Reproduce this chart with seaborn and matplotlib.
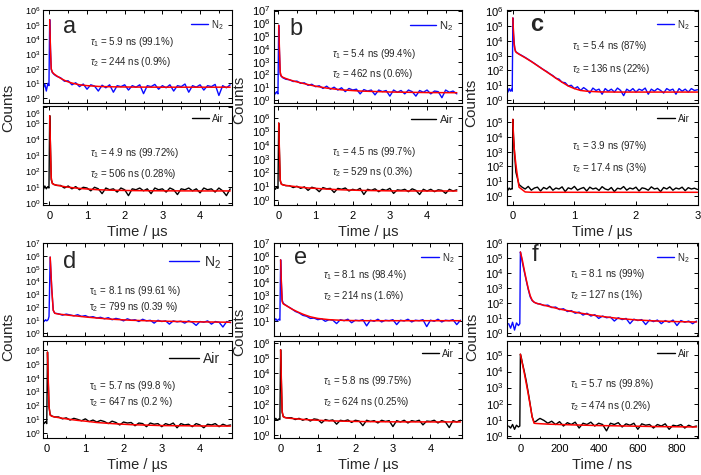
import matplotlib
matplotlib.use('Agg')
import matplotlib.pyplot as plt
import seaborn as sns
from matplotlib.ticker import MultipleLocator, NullLocator
from matplotlib.transforms import Affine2D

# ---------------- data ----------------
# common time grid (us) for panels a, b, d, e
t_us = [-0.2, -0.16, -0.12, -0.08, -0.04, -0.01, 0.01, 0.03, 0.05, 0.08, 0.12, 0.16, 0.2,
        0.3, 0.4, 0.5, 0.6, 0.7, 0.8, 0.9, 1.0, 1.1, 1.2, 1.3, 1.4, 1.5, 1.6, 1.7, 1.8, 1.9,
        2.0, 2.1, 2.2, 2.3, 2.4, 2.5, 2.6, 2.7, 2.8, 2.9, 3.0, 3.1, 3.2, 3.3, 3.4, 3.5, 3.6,
        3.7, 3.8, 3.9, 4.0, 4.1, 4.2, 4.3, 4.4, 4.5, 4.6, 4.7, 4.8]
fit_t_us = [0.01, 0.02, 0.03, 0.05, 0.08, 0.12, 0.2, 0.3, 0.45, 0.6, 0.8, 1.0, 1.3, 1.7,
            2.2, 3.0, 4.0, 4.8]

a_n2 = [8, 5, 9, 3, 10, 7, 2.2e5, 2500, 90, 55, 42, 35, 30,
        24, 14, 15, 8, 11, 6, 9, 4, 8, 6.5, 3, 7.5, 5, 8, 2.5, 7, 6, 8, 3.5, 7, 5.5, 8, 2,
        7, 6, 8.5, 4, 7, 5, 8, 3, 7, 6, 9, 2.5, 7, 5.5, 8, 3.5, 7, 6, 8.5, 1.5, 7, 5, 8]
a_air = [10, 7, 12, 8, 11, 9, 3e5, 4000, 30, 18, 15, 14, 13,
         13, 9, 12, 8, 11, 7, 10, 9, 6, 10, 8, 4, 9, 7, 8, 5, 9, 7, 3, 8, 7, 9, 6, 8, 4, 9,
         7, 8, 5, 9, 7, 3.5, 8, 7, 9, 6, 8, 4.5, 9, 7, 8, 5, 9, 6, 3, 8]
a_n2_fit = [2.2e5, 2e4, 2000, 100, 58, 45, 32, 22, 14, 10.5, 8, 7, 6.2, 5.8, 5.6, 5.5, 5.5, 5.5]
a_air_fit = [3e5, 3e4, 2500, 40, 17, 15, 13.5, 12, 10.5, 9.5, 8.5, 7.8, 7, 6.5, 6.2, 6, 5.9, 5.9]

b_n2 = [4, 2, 5, 3, 4.5, 3, 7e5, 6000, 100, 70, 55, 48, 42,
        38, 28, 30, 20, 22, 14, 17, 11, 13, 8, 12, 7, 10, 6, 9, 4.5, 8, 6, 7, 3, 6.5, 5, 6,
        2.5, 6, 4.5, 5.5, 2, 6, 4, 5.5, 3, 6, 4.5, 2, 5.5, 4, 6, 3, 5, 4.5, 1.5, 6, 4, 5, 3]
b_air = [8, 5, 10, 6, 9, 7, 4e5, 3000, 25, 15, 13, 12, 11,
         11, 8, 10, 7, 9, 5, 8.5, 7, 4, 8, 6.5, 7, 3.5, 7, 6, 7.5, 4.5, 6, 5, 7, 2.5, 6, 5,
         6.5, 4, 6, 5, 7, 3, 5.5, 5, 6, 4, 6.5, 5, 2.5, 6, 4.5, 6, 4, 5.5, 5, 3, 6, 4.5, 5.5]
b_n2_fit = [7e5, 8e4, 8000, 150, 75, 60, 48, 38, 28, 22, 16, 12, 8.5, 6.2, 5, 4.2, 3.8, 3.7]
b_air_fit = [4e5, 4e4, 3000, 30, 14, 12.5, 11.5, 10.5, 9.5, 8.5, 7.5, 7, 6.2, 5.5, 5, 4.6, 4.5, 4.5]

d_n2 = [10, 7, 12, 8, 11, 9, 10, 12, 20, 8e5, 3000, 60, 35,
        32, 25, 30, 26, 22, 27, 20, 23, 17, 19, 15, 17, 13, 16, 11, 14, 12, 9, 13, 10, 11, 8,
        12, 9, 10, 6, 10, 8, 9, 5, 9, 7.5, 8.5, 6, 9, 7, 4, 8, 7, 9, 5, 8, 7, 3, 8, 6.5]
d_air = [6, 4, 8, 5, 7, 5, 7e5, 5000, 80, 22, 18, 16, 15,
         15, 11, 13, 9, 12, 10, 8, 11, 7, 9, 6.5, 8.5, 7, 5, 7.5, 6, 4, 6.5, 5.5, 6, 3.5,
         5.5, 5, 3, 5.5, 4.5, 5, 3, 5, 4, 5.5, 2.5, 5, 4, 4.5, 3, 5, 4, 2.5, 4.5, 4, 5, 3,
         4.5, 3.5, 4]
d_n2_fit_t = [0.08, 0.1, 0.12, 0.16, 0.2, 0.3, 0.45, 0.6, 0.8, 1.0, 1.3, 1.7, 2.2, 3.0, 4.0, 4.8]
d_n2_fit = [8e5, 5e4, 3000, 60, 35, 30, 27, 24, 21, 18, 15, 12, 10, 8.5, 7.5, 7]
d_air_fit = [7e5, 7e4, 6000, 80, 20, 17, 15, 13.5, 11.5, 10, 8.5, 7.5, 6, 5, 4.2, 3.6, 3.4, 3.3]

e_n2 = [12, 9, 14, 10, 13, 11, 5e5, 8000, 400, 220, 180, 150, 125,
        85, 52, 40, 26, 22, 15, 16, 12, 14, 9, 12, 11, 6, 12, 10, 13, 7, 11, 10, 12, 4, 11,
        9, 13, 8, 11, 10, 12, 5, 11, 9.5, 13, 8, 11, 10, 12, 3.5, 11, 9, 13, 8, 11, 10, 12,
        5, 11]
e_air = [10, 8, 12, 9, 11, 10, 3.5e5, 3000, 30, 16, 14, 13, 13,
         13, 10, 12, 9, 11.5, 8, 11, 10, 6, 10, 8.5, 9.5, 5, 9, 8, 9.5, 6.5, 9, 8, 4, 9, 7.5,
         8.5, 6, 9, 7.5, 8.5, 3.5, 8.5, 7, 9, 6, 8.5, 7.5, 9, 4.5, 8, 7.5, 9, 6, 8.5, 7, 3,
         8.5, 7, 9]
e_n2_fit = [5e5, 6e4, 8000, 300, 200, 170, 125, 82, 50, 32, 20, 15, 12, 10.5, 10, 10, 10, 10]
e_air_fit = [3.5e5, 4e4, 3000, 35, 15, 13.5, 12.5, 11.8, 11, 10.2, 9.5, 9, 8.3, 7.8, 7.4, 7.1, 7, 7]

# panel c (us, 0-3)
t_c = [-0.1, -0.08, -0.06, -0.04, -0.02, -0.01, 0.0, 0.01, 0.03, 0.05,
       0.1, 0.15, 0.2, 0.25, 0.3, 0.35, 0.4, 0.45, 0.5, 0.55, 0.6, 0.65, 0.7, 0.75, 0.8,
       0.85, 0.9, 0.95, 1.0, 1.05, 1.1, 1.15, 1.2, 1.25, 1.3, 1.35, 1.4, 1.45, 1.5, 1.55,
       1.6, 1.65, 1.7, 1.75, 1.8, 1.85, 1.9, 1.95, 2.0, 2.05, 2.1, 2.15, 2.2, 2.25, 2.3,
       2.35, 2.4, 2.45, 2.5, 2.55, 2.6, 2.65, 2.7, 2.75, 2.8, 2.85, 2.9, 2.95, 3.0]
fit_t_c = [0.0, 0.01, 0.02, 0.04, 0.06, 0.1, 0.2, 0.3, 0.4, 0.5, 0.6, 0.7, 0.8, 0.9, 1.0,
           1.1, 1.2, 1.4, 1.7, 2.0, 2.5, 3.0]
c_n2 = [5, 3.5, 6, 4, 5.5, 4, 3.5e5, 3e4, 3000, 1800,
        1300, 1000, 760, 560, 410, 300, 215, 155, 112, 85, 60, 45, 30, 26, 16, 15, 9, 10, 6,
        8, 4.5, 7, 5, 3, 6.5, 4.5, 5.5, 2.5, 6, 4, 5.5, 3.5, 6.5, 4.5, 2, 5.5, 4, 6, 3.5,
        5.5, 4.5, 6.5, 2.5, 5.5, 4, 6, 4.5, 3, 6, 4.5, 5.5, 2.5, 6, 4, 5.5, 3.5, 6, 4.5, 5]
c_air = [3, 2.5, 3.5, 2.8, 3.2, 3, 1.5e5, 1.2e4, 500, 40,
         6, 4, 3, 4.5, 2.5, 3.5, 4, 2.2, 3.8, 3, 4.5, 2.5, 3.5, 3, 4.2, 2, 3.6, 3, 4.5, 2.5,
         3.2, 3.8, 2.2, 4, 3, 3.5, 2.4, 4.3, 3, 2.6, 3.8, 2, 3.4, 3, 4.4, 2.5, 3.5, 3, 4, 2.2,
         3.6, 3.2, 2.5, 4.2, 3, 3.4, 2, 3.8, 3, 4.2, 2.5, 3.5, 3, 4, 2.3, 3.7, 3, 3.4, 2.8]
c_n2_fit = [3.5e5, 4e4, 6000, 2000, 1600, 1250, 720, 400, 210, 110, 58, 30, 16, 9, 6, 4.5,
            4, 3.6, 3.5, 3.5, 3.5, 3.5]
c_air_fit = [1.5e5, 1.2e4, 2000, 300, 60, 4, 1.9, 1.8, 1.8, 1.8, 1.8, 1.8, 1.8, 1.8, 1.8,
             1.8, 1.8, 1.8, 1.8, 1.8, 1.8, 1.8]

# panel f (ns)
t_ns = [-60, -50, -40, -30, -20, -10, -3, 0, 5, 10, 20, 30, 40, 50, 60, 70, 80, 90,
        100, 120, 140, 160, 180, 200, 220, 240, 260, 280, 300, 320, 340, 360, 380, 400, 420,
        440, 460, 480, 500, 520, 540, 560, 580, 600, 620, 640, 660, 680, 700, 720, 740, 760,
        780, 800, 820, 840, 860, 880, 900]
fit_t_ns = [0, 10, 20, 30, 40, 50, 60, 70, 80, 100, 150, 200, 300, 400, 500, 600, 700, 800, 900]
f_n2 = [4, 2, 5, 1.5, 4.5, 3, 4, 2.5e5, 1.2e5, 5e4, 1.2e4, 3000, 800, 250, 140, 110, 95, 85,
        85, 65, 70, 48, 52, 35, 40, 26, 30, 20, 24, 15, 20, 13, 16, 9, 13, 10, 11, 6, 10, 7.5,
        9, 4, 8, 6.5, 7.5, 3.5, 7, 5.5, 7, 4, 6.5, 5, 7, 3, 6.5, 5, 6, 4, 6]
f_air = [4, 3, 5, 2.5, 4.5, 3.5, 4, 1.2e5, 7e4, 3.5e4, 1e4, 2500, 500, 90, 15, 7, 8, 10,
         12, 9, 6, 8, 5, 7.5, 4, 6.5, 5, 7, 3, 6, 5, 7, 4, 6, 5, 2, 6, 5, 6.5, 3.5, 5.5, 4.5,
         6, 2.5, 5.5, 4.5, 5, 3, 5, 4, 5.5, 2.5, 4.5, 4, 5, 3, 4.5, 3.5, 4]
f_n2_fit = [2.5e5, 7e4, 1.5e4, 3500, 900, 300, 150, 110, 95, 80, 55, 38, 21, 13, 9, 7, 6, 5.5, 5.2]
f_air_fit = [1.2e5, 3e4, 8000, 1800, 400, 80, 15, 6, 5.8, 5.6, 5.2, 5, 4.6, 4.3, 4.1, 3.9, 3.7,
             3.6, 3.5]

tau_text = {
    'a': (('5.9 ns (99.1%)', '244 ns (0.9%)'), ('4.9 ns (99.72%)', '506 ns (0.28%)')),
    'b': (('5.4 ns (99.4%)', '462 ns (0.6%)'), ('4.5 ns (99.7%)', '529 ns (0.3%)')),
    'c': (('5.4 ns (87%)', '136 ns (22%)'), ('3.9 ns (97%)', '17.4 ns (3%)')),
    'd': (('8.1 ns (99.61 %)', '799 ns (0.39 %)'), ('5.7 ns (99.8 %)', '647 ns (0.2 %)')),
    'e': (('8.1 ns (98.4%)', '214 ns (1.6%)'), ('5.8 ns (99.75%)', '624 ns (0.25%)')),
    'f': (('8.1 ns (99%)', '127 ns (1%)'), ('5.7 ns (99.8%)', '474 ns (0.2%)')),
}

# ---------------- style ----------------
sns.set_theme(style='ticks')
plt.rcParams['font.family'] = ['Liberation Sans', 'DejaVu Sans']
plt.rcParams['mathtext.fontset'] = 'custom'
plt.rcParams['mathtext.rm'] = 'Liberation Sans'
plt.rcParams['mathtext.it'] = 'Liberation Sans:italic'
plt.rcParams['mathtext.bf'] = 'Liberation Sans:bold'

W, H = 701, 475
fig = plt.figure(figsize=(W / 100, H / 100), dpi=100)

col_x = [(43.3, 231.7), (273.5, 462.0), (506.7, 697.5)]
row_y = [((10, 103), (106, 205)), ((243, 336), (341, 438))]


def make_ax(col, row, part):
    x0, x1 = col_x[col]
    y0, y1 = row_y[row][part]
    return fig.add_axes([x0 / W, 1 - y1 / H, (x1 - x0) / W, (y1 - y0) / H])


def style_ax(ax, xlim, ylim, xmaj, xmin, yticks, show_x=True):
    ax.set_yscale('log')
    ax.set_xlim(*xlim)
    ax.set_ylim(*ylim)
    ax.xaxis.set_major_locator(MultipleLocator(xmaj))
    ax.xaxis.set_minor_locator(MultipleLocator(xmin))
    ax.set_yticks(yticks)
    ax.yaxis.set_minor_locator(NullLocator())
    ax.tick_params(which='both', direction='in', top=True, right=True, labelsize=8,
                   width=0.7, colors='black')
    ax.tick_params(axis='y', pad=2)
    ax.tick_params(axis='x', pad=4, labelbottom=show_x)
    ax.tick_params(which='major', length=3)
    ax.tick_params(which='minor', length=1.8)
    for s in ax.spines.values():
        s.set_linewidth(0.8)
        s.set_color('black')
    ax.set_ylabel('')
    ax.set_xlabel('')


panels = [
    # letter, col, row, data t, n2, air, fit t n2, n2 fit, fit t air, air fit, xlim, unit
    ('a', 0, 0, t_us, a_n2, a_air, fit_t_us, a_n2_fit, fit_t_us, a_air_fit, (-0.16, 4.84), 'us'),
    ('b', 1, 0, t_us, b_n2, b_air, fit_t_us, b_n2_fit, fit_t_us, b_air_fit, (-0.13, 4.94), 'us'),
    ('c', 2, 0, t_c, c_n2, c_air, fit_t_c, c_n2_fit, fit_t_c, c_air_fit, (-0.1, 3.0), 'us'),
    ('d', 0, 1, t_us, d_n2, d_air, d_n2_fit_t, d_n2_fit, fit_t_us, d_air_fit, (-0.1, 4.83), 'us'),
    ('e', 1, 1, t_us, e_n2, e_air, fit_t_us, e_n2_fit, fit_t_us, e_air_fit, (-0.18, 4.84), 'us'),
    ('f', 2, 1, t_ns, f_n2, f_air, fit_t_ns, f_n2_fit, fit_t_ns, f_air_fit, (-70, 905), 'ns'),
]

ylims = {
    'a': ((0.46, 1e6), (0.78, 1.2e6)),
    'b': ((0.58, 1.1e7), (0.43, 7e6)),
    'c': ((0.64, 1.2e6), (0.25, 1.2e6)),
    'd': ((0.6, 1e7), (0.46, 4.4e6)),
    'e': ((0.66, 1e7), (0.63, 1.3e6)),
    'f': ((0.6, 1e6), (0.72, 8e5)),
}
# decades labelled on each axis: (top, bottom)
ydecades = {
    'a': ((0, 6), (0, 6)), 'b': ((0, 7), (0, 6)), 'c': ((0, 6), (0, 5)),
    'd': ((0, 7), (0, 6)), 'e': ((1, 7), (0, 6)), 'f': ((0, 6), (0, 5)),
}
# (x, y tau1, y tau2) in axes fraction for top / bottom
text_pos = {
    'a': ((0.25, 0.66, 0.44), (0.25, 0.525, 0.31)),
    'b': ((0.31, 0.53, 0.31), (0.31, 0.54, 0.33)),
    'c': ((0.34, 0.61, 0.37), (0.34, 0.60, 0.37)),
    'd': ((0.245, 0.48, 0.315), (0.245, 0.54, 0.37)),
    'e': ((0.26, 0.66, 0.43), (0.26, 0.59, 0.37)),
    'f': ((0.33, 0.67, 0.44), (0.33, 0.56, 0.33)),
}
letter_pos = {'a': (0.14, 0.82), 'b': (0.12, 0.80), 'c': (0.155, 0.84),
              'd': (0.14, 0.80), 'e': (0.146, 0.84), 'f': (0.15, 0.87)}
legend_style = {'a': (7, 1.8), 'b': (8, 2.3), 'c': (7, 1.8),
                'd': (10, 2.2), 'e': (7, 1.8), 'f': (7, 1.8)}
counts_pos = {'a': (8, 108), 'b': (239, 100), 'c': (471, 103),
              'd': (8, 337), 'e': (239, 332), 'f': (472, 337)}

BLUE = '#0a0aff'
pairs = []

for (letter, col, row, t, yn2, yair, tfn, yfn, tfa, yfa, xlim, unit) in panels:
    xmaj, xmin = (200, 100) if unit == 'ns' else (1, 0.5)
    fs, hl = legend_style[letter]
    axes_pair = []
    for part, (y, tf, yf, color, lab) in enumerate([
            (yn2, tfn, yfn, BLUE, 'N$_2$'),
            (yair, tfa, yfa, 'black', 'Air')]):
        ax = make_ax(col, row, part)
        sns.lineplot(x=t, y=y, ax=ax, color=color, lw=1.0, estimator=None, sort=False,
                     label=lab)
        sns.lineplot(x=tf, y=yf, ax=ax, color='red', lw=1.1, estimator=None, sort=False)
        lo, hi = ydecades[letter][part]
        style_ax(ax, xlim, ylims[letter][part], xmaj, xmin,
                 [10.0 ** k for k in range(lo, hi + 1)], show_x=(part == 1))
        handles, labels = ax.get_legend_handles_labels()
        ax.legend(handles[:1], labels[:1], loc='upper right', frameon=False, fontsize=fs,
                  handlelength=hl, handletextpad=0.3, borderaxespad=0.4)
        tx, ty1, ty2 = text_pos[letter][part]
        s1, s2 = tau_text[letter][part]
        if letter == 'd':
            l1, l2 = 'τ$_1$ = ', 'τ$_2$ = '
        else:
            l1, l2 = r'$\tau_1$ = ', r'$\tau_2$ = '
        ax.text(tx, ty1, l1 + s1, transform=ax.transAxes, fontsize=7, va='center', ha='left')
        ax.text(tx, ty2, l2 + s2, transform=ax.transAxes, fontsize=7, va='center', ha='left')
        if part == 0:
            lx, ly = letter_pos[letter]
            ax.text(lx, ly, letter, transform=ax.transAxes, fontsize=17, ha='center',
                    va='center', fontweight='bold' if letter == 'c' else 'normal')
        else:
            ax.set_xlabel('Time / µs' if unit == 'us' else 'Time / ns', fontsize=10.5,
                          labelpad=3)
        axes_pair.append(ax)
    pairs.append(axes_pair)
    cx, cy = counts_pos[letter]
    fig.text(cx / W, 1 - cy / H, 'Counts', rotation=90, ha='center', va='center',
             fontsize=11)


# the lowest y label of an upper axis and the highest of the lower axis sit very
# close together; shrink them a little if needed and spread them into the free room
MARGIN = 3


def shift(lab, dy):
    lab.set_transform(lab.get_transform() + Affine2D().translate(0, dy))


def bb(lab):
    return lab.get_window_extent(fig.canvas.get_renderer())


def rooms(top, bot):
    gap = bb(top[0]).y0 - bb(bot[-1]).y1
    up = bb(top[1]).y0 - bb(top[0]).y1 - MARGIN
    dn = bb(bot[-1]).y0 - bb(bot[-2]).y1 - MARGIN
    return MARGIN - gap, max(up, 0), max(dn, 0)


fig.canvas.draw()
for ax_top, ax_bot in pairs:
    labs_top = ax_top.get_yticklabels()
    labs_bot = ax_bot.get_yticklabels()
    need, room_up, room_dn = rooms(labs_top, labs_bot)
    if need <= 0:
        continue
    size = 8
    while room_up + room_dn < need and size > 6.5:
        size -= 0.5
        for lab in labs_top + labs_bot:
            lab.set_fontsize(size)
        fig.canvas.draw()
        need, room_up, room_dn = rooms(labs_top, labs_bot)
    if need <= 0:
        continue
    total = max(room_up + room_dn, 1e-6)
    up = need * room_up / total
    shift(labs_top[0], up)
    shift(labs_bot[-1], -(need - up))

fig.savefig('out.png', dpi=100)
